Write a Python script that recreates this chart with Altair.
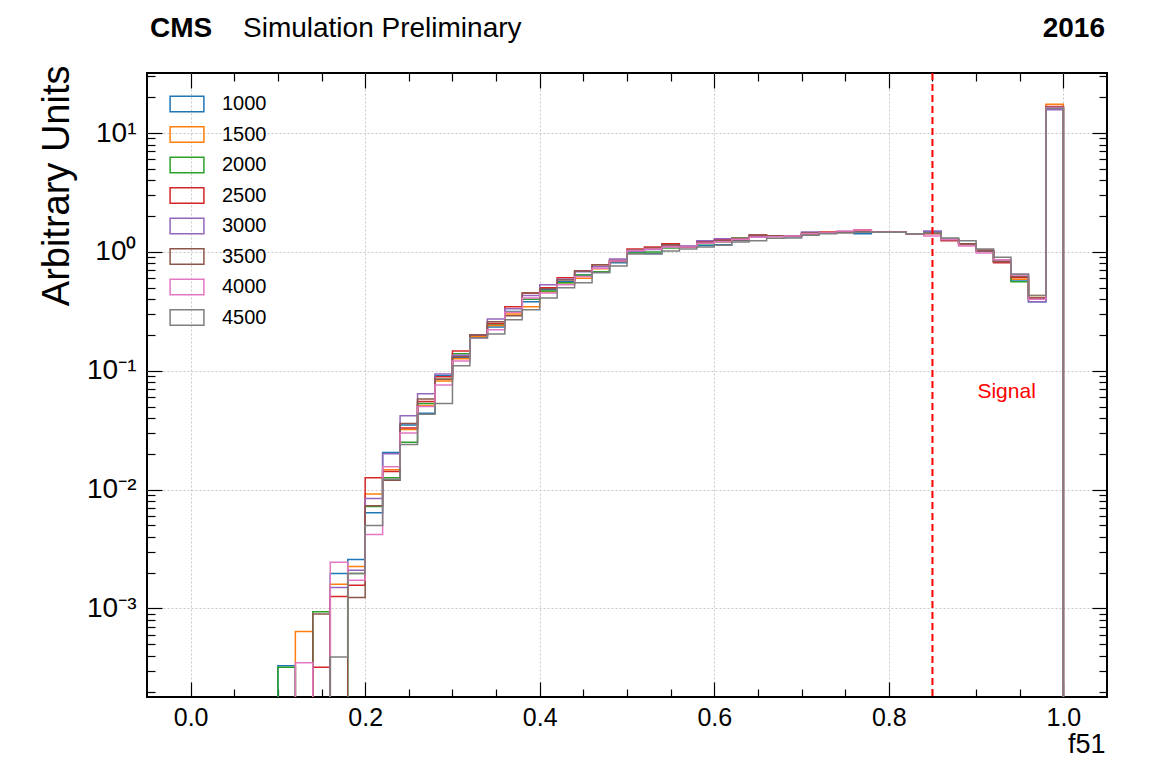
import altair as alt
import pandas as pd

# ---------------- data ----------------
bin_low_edges = [0.10, 0.12, 0.14, 0.16, 0.18, 0.20, 0.22, 0.24, 0.26, 0.28,
                 0.30, 0.32, 0.34, 0.36, 0.38, 0.40, 0.42, 0.44, 0.46, 0.48,
                 0.50, 0.52, 0.54, 0.56, 0.58, 0.60, 0.62, 0.64, 0.66, 0.68,
                 0.70, 0.72, 0.74, 0.76, 0.78, 0.80, 0.82, 0.84, 0.86, 0.88,
                 0.90, 0.92, 0.94, 0.96, 0.98]
bin_width = 0.02

mass_points = ["1000", "1500", "2000", "2500", "3000", "3500", "4000", "4500"]

h1000 = [3.3e-4, 0, 0, 1.97e-3, 2.58e-3, 6.4e-3, 2.05e-2, 3.5e-2, 4.4e-2, 9.1e-2,
         0.130, 0.190, 0.234, 0.315, 0.380, 0.480, 0.560, 0.640, 0.670, 0.810,
         1.00, 0.97, 1.12, 1.10, 1.13, 1.15, 1.25, 1.33, 1.36, 1.34,
         1.42, 1.44, 1.46, 1.42, 1.46, 1.46, 1.42, 1.48, 1.27, 1.17,
         1.02, 0.83, 0.57, 0.38, 16.3]
h1500 = [0, 6.4e-4, 0, 1.6e-3, 2.25e-3, 9.2e-3, 1.47e-2, 3.2e-2, 5.1e-2, 8.2e-2,
         0.126, 0.195, 0.240, 0.300, 0.345, 0.460, 0.550, 0.600, 0.720, 0.830,
         1.03, 1.07, 1.12, 1.10, 1.19, 1.22, 1.27, 1.35, 1.37, 1.36,
         1.42, 1.44, 1.46, 1.48, 1.46, 1.46, 1.42, 1.45, 1.27, 1.15,
         1.02, 0.83, 0.59, 0.43, 17.5]
h2000 = [3.2e-4, 0, 9.4e-4, 0, 1.97e-3, 7.2e-3, 1.26e-2, 2.5e-2, 5.3e-2, 8.5e-2,
         0.139, 0.200, 0.248, 0.310, 0.400, 0.470, 0.550, 0.640, 0.680, 0.840,
         0.98, 1.00, 1.08, 1.10, 1.17, 1.22, 1.31, 1.33, 1.37, 1.36,
         1.42, 1.44, 1.46, 1.48, 1.46, 1.47, 1.42, 1.45, 1.27, 1.17,
         1.02, 0.83, 0.56, 0.40, 16.6]
h2500 = [0, 0, 3.2e-4, 1.26e-3, 1.57e-3, 1.26e-2, 1.42e-2, 3.3e-2, 5.5e-2, 8.9e-2,
         0.147, 0.200, 0.250, 0.345, 0.452, 0.500, 0.605, 0.690, 0.780, 0.850,
         1.06, 1.10, 1.17, 1.11, 1.23, 1.27, 1.27, 1.39, 1.37, 1.37,
         1.43, 1.47, 1.46, 1.53, 1.46, 1.46, 1.42, 1.42, 1.24, 1.17,
         1.04, 0.81, 0.61, 0.41, 16.7]
h3000 = [0, 0, 0, 1.5e-3, 2.1e-3, 8.4e-3, 2.0e-2, 4.19e-2, 6.4e-2, 9.4e-2,
         0.135, 0.200, 0.273, 0.332, 0.430, 0.528, 0.590, 0.680, 0.750, 0.870,
         1.02, 1.05, 1.12, 1.12, 1.24, 1.29, 1.28, 1.35, 1.37, 1.36,
         1.47, 1.44, 1.46, 1.48, 1.46, 1.46, 1.42, 1.50, 1.27, 1.17,
         1.02, 0.83, 0.65, 0.38, 15.7]
h3500 = [0, 0, 9.0e-4, 0, 1.24e-3, 7.3e-3, 1.2e-2, 3.6e-2, 5.8e-2, 8.5e-2,
         0.131, 0.200, 0.258, 0.290, 0.450, 0.490, 0.580, 0.690, 0.780, 0.840,
         1.04, 1.08, 1.15, 1.10, 1.20, 1.24, 1.30, 1.39, 1.37, 1.36,
         1.44, 1.44, 1.46, 1.48, 1.47, 1.46, 1.42, 1.45, 1.27, 1.17,
         1.02, 0.83, 0.62, 0.41, 16.5]
h4000 = [0, 3.5e-4, 0, 2.45e-3, 1.73e-3, 4.2e-3, 1.56e-2, 3.0e-2, 5.0e-2, 7.6e-2,
         0.121, 0.190, 0.221, 0.310, 0.410, 0.450, 0.528, 0.620, 0.730, 0.840,
         1.03, 1.06, 1.10, 1.10, 1.18, 1.22, 1.28, 1.33, 1.34, 1.36,
         1.42, 1.44, 1.50, 1.53, 1.46, 1.46, 1.42, 1.36, 1.27, 1.12,
         0.98, 0.86, 0.64, 0.40, 16.4]
h4500 = [0, 0, 0, 3.9e-4, 1.97e-3, 5.0e-3, 1.22e-2, 2.4e-2, 4.3e-2, 5.3e-2,
         0.110, 0.190, 0.204, 0.268, 0.326, 0.410, 0.500, 0.550, 0.670, 0.760,
         0.96, 0.96, 1.02, 1.06, 1.10, 1.14, 1.21, 1.24, 1.30, 1.31,
         1.38, 1.42, 1.44, 1.46, 1.46, 1.46, 1.42, 1.44, 1.31, 1.24,
         1.06, 0.90, 0.65, 0.43, 16.2]

series_colors = ["#1f77b4", "#ff7f0e", "#2ca02c", "#d62728",
                 "#9467bd", "#8c564b", "#e377c2", "#7f7f7f"]

x_major = [0.0, 0.2, 0.4, 0.6, 0.8, 1.0]
x_minor = [0.05, 0.1, 0.15, 0.25, 0.3, 0.35, 0.45, 0.5, 0.55, 0.65, 0.7, 0.75,
           0.85, 0.9, 0.95]
y_major = [1e-3, 1e-2, 1e-1, 1e0, 1e1]
y_minor = [2e-4, 3e-4, 4e-4, 5e-4, 6e-4, 7e-4, 8e-4, 9e-4,
           2e-3, 3e-3, 4e-3, 5e-3, 6e-3, 7e-3, 8e-3, 9e-3,
           2e-2, 3e-2, 4e-2, 5e-2, 6e-2, 7e-2, 8e-2, 9e-2,
           2e-1, 3e-1, 4e-1, 5e-1, 6e-1, 7e-1, 8e-1, 9e-1,
           2, 3, 4, 5, 6, 7, 8, 9, 20, 30]

signal_cut = 0.85
signal_label = {"x": 0.935, "y": 0.066, "text": "Signal"}

x_domain = [-0.05, 1.05]
y_domain = [1.8e-4, 32]
FLOOR = 1e-7  # empty bins drawn down to the axis on the log scale

# ------------- build step table -------------
all_series = [h1000, h1500, h2000, h2500, h3000, h3500, h4000, h4500]
rows = []
for name, vals in zip(mass_points, all_series):
    rows.append({"mass": name, "f51": bin_low_edges[0] - bin_width, "au": FLOOR, "o": 0})
    for i, (e, v) in enumerate(zip(bin_low_edges, vals)):
        rows.append({"mass": name, "f51": e, "au": v if v > 0 else FLOOR, "o": i + 1})
    rows.append({"mass": name, "f51": bin_low_edges[-1] + bin_width, "au": FLOOR,
                 "o": len(vals) + 1})
df = pd.DataFrame(rows)

FONT = "Liberation Sans"
xs = alt.Scale(domain=x_domain, nice=False, zero=False)
ys = alt.Scale(type="log", domain=y_domain, nice=False)

TICK = 15
MINOR = 8


def hidden_axis(orient, values, size, offset, **kw):
    return alt.Axis(orient=orient, values=values, tickSize=size, offset=offset,
                    labels=False, domain=False, grid=False, title=None,
                    tickColor="black", tickWidth=1.2, **kw)


def carrier(xaxis, yaxis):
    return alt.Chart(df).mark_point(opacity=0, clip=True).encode(
        x=alt.X("f51:Q", scale=xs, axis=xaxis),
        y=alt.Y("au:Q", scale=ys, axis=yaxis),
    )


# grid
grid_layer = carrier(
    alt.Axis(orient="bottom", values=x_major, grid=True, ticks=False, labels=False,
             domain=False, title=None, gridColor="#c8c8c8", gridDash=[2, 2], gridWidth=1),
    alt.Axis(orient="left", values=y_major, grid=True, ticks=False, labels=False,
             domain=False, title=None, gridColor="#c8c8c8", gridDash=[2, 2], gridWidth=1),
)

y_label_expr = ("datum.value >= 5 ? '10¹' : datum.value >= 0.5 ? '10⁰' : "
                "datum.value >= 0.05 ? '10⁻¹' : datum.value >= 0.005 ? '10⁻²' : '10⁻³'")

lines = alt.Chart(df).mark_line(interpolate="step-after", strokeWidth=1.5, clip=True).encode(
    x=alt.X("f51:Q", scale=xs,
            axis=alt.Axis(orient="bottom", values=x_major, format=".1f", offset=-TICK,
                          tickSize=TICK, tickColor="black", tickWidth=1.2, domain=False,
                          grid=False, labelFontSize=25, labelPadding=8, labelColor="black",
                          labelFont=FONT, labelFlush=False,
                          title="f51", titleFont=FONT, titleFontSize=27,
                          titleFontWeight="normal", titleColor="black",
                          titleAnchor="end", titleAlign="right", titleBaseline="alphabetic",
                          titleX=958, titleY=TICK + 55)),
    y=alt.Y("au:Q", scale=ys,
            axis=alt.Axis(orient="left", values=y_major, labelExpr=y_label_expr,
                          offset=-TICK, tickSize=TICK, tickColor="black", tickWidth=1.2,
                          domain=False, grid=False, labelFontSize=28, labelPadding=11,
                          labelColor="black", labelFont=FONT,
                          title="Arbitrary Units", titleFont=FONT, titleFontSize=38,
                          titleFontWeight="normal", titleColor="black",
                          titleAngle=270, titleAlign="right", titleBaseline="middle",
                          titleX=-90 - TICK, titleY=-8)),
    color=alt.Color("mass:N",
                    scale=alt.Scale(domain=mass_points, range=series_colors),
                    legend=alt.Legend(title=None, orient="none", legendX=26, legendY=17,
                                      symbolType="M-1.3,-0.6H1.3V0.6H-1.3Z",
                                      symbolSize=676, symbolStrokeWidth=1.5,
                                      symbolFillColor="transparent",
                                      labelFontSize=20, labelFont=FONT, labelColor="black",
                                      labelOffset=21, rowPadding=5.5, padding=0)),
    order=alt.Order("o:Q"),
)

minor_near = carrier(hidden_axis("bottom", x_minor, MINOR, -MINOR),
                     hidden_axis("left", y_minor, MINOR, -MINOR))
major_far = carrier(hidden_axis("top", x_major, TICK, -TICK),
                    hidden_axis("right", y_major, TICK, -TICK))
minor_far = carrier(hidden_axis("top", x_minor, MINOR, -MINOR),
                    hidden_axis("right", y_minor, MINOR, -MINOR))

signal_rule = alt.Chart(pd.DataFrame({"x": [signal_cut]})).mark_rule(
    color="#ff0000", strokeWidth=2, strokeDash=[7, 4]
).encode(x=alt.X("x:Q", scale=xs, axis=None))

signal_text = alt.Chart(pd.DataFrame([signal_label])).mark_text(
    color="#ff0000", fontSize=21, font=FONT, align="center", baseline="middle"
).encode(x=alt.X("x:Q", scale=xs, axis=None),
         y=alt.Y("y:Q", scale=ys, axis=None),
         text="text:N")

one = pd.DataFrame({"t": ["CMS"]})
cms = alt.Chart(one).mark_text(fontSize=28, fontWeight="bold", font=FONT, align="left",
                               baseline="alphabetic", color="black").encode(
    x=alt.value(3), y=alt.value(-36), text=alt.value("CMS"))
sim = alt.Chart(one).mark_text(fontSize=28, font=FONT, align="left",
                               baseline="alphabetic", color="black").encode(
    x=alt.value(96), y=alt.value(-36), text=alt.value("Simulation Preliminary"))
year = alt.Chart(one).mark_text(fontSize=28, fontWeight="bold", font=FONT, align="right",
                                baseline="alphabetic", color="black").encode(
    x=alt.value(958), y=alt.value(-36), text=alt.value("2016"))

chart = alt.layer(
    grid_layer, lines, signal_rule, signal_text, minor_near, major_far, minor_far,
    cms, sim, year
).resolve_axis(x="independent", y="independent").properties(
    width=960, height=624,
    autosize=alt.AutoSizeParams(type="none"),
    padding={"left": 139, "top": 65, "right": 20, "bottom": 64},
).configure(font=FONT).configure_view(stroke="black", strokeWidth=2)

chart.save("out.html", embed_options={"renderer": "svg", "actions": False})
